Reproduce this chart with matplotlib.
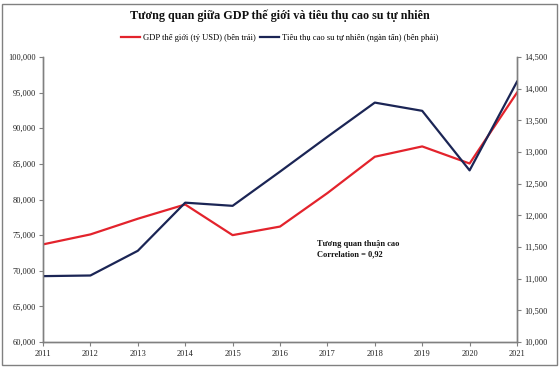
import matplotlib
matplotlib.use("Agg")
import matplotlib.pyplot as plt
from matplotlib.patches import Rectangle
from matplotlib.ticker import FuncFormatter

plt.rcParams['font.family'] = ['Liberation Serif', 'DejaVu Serif']

years = [2011, 2012, 2013, 2014, 2015, 2016, 2017, 2018, 2019, 2020, 2021]
gdp = [73700, 75100, 77300, 79300, 75000, 76200, 80900, 86000, 87450, 85050, 95000]
rubber = [11040, 11050, 11440, 12200, 12150, 12690, 13240, 13780, 13650, 12710, 14110]

title = "Tương quan giữa GDP thế giới và tiêu thụ cao su tự nhiên"
label_gdp = "GDP thế giới (tỷ USD) (bên trái)"
label_rub = "Tiêu thụ cao su tự nhiên (ngàn tấn) (bên phải)"
note = "Tương quan thuận cao\nCorrelation = 0,92"

red = "#E3232C"
navy = "#1B2555"
gray = "#808080"

fig = plt.figure(figsize=(5.6, 3.69), dpi=100)
ax = fig.add_axes([43/560, 1-342/369, (517-43)/560, (342-57)/369])
ax2 = ax.twinx()

l1, = ax.plot(years, gdp, color=red, lw=1.6, label=label_gdp)
l2, = ax2.plot(years, rubber, color=navy, lw=1.6, label=label_rub)

ax.set_xlim(2011, 2021)
ax.set_ylim(60000, 100000)
ax2.set_ylim(10000, 14500)
ax.set_xticks(years)
ax.set_yticks(range(60000, 100001, 5000))
ax2.set_yticks(range(10000, 14501, 500))
fmt = FuncFormatter(lambda v, p: f"{int(v):,}")
ax.yaxis.set_major_formatter(fmt)
ax2.yaxis.set_major_formatter(fmt)

for a in (ax, ax2):
    a.spines['top'].set_visible(False)
    for s in ('left', 'right', 'bottom'):
        a.spines[s].set_color(gray)
        a.spines[s].set_linewidth(1.0)
    a.tick_params(colors=gray, labelcolor='#222222', labelsize=6, length=3, width=0.8, pad=2)
ax.tick_params(axis='x', pad=3)

ax.text(2016.78, 73000, note, fontsize=6.0, fontweight='bold', ha='left', va='center',
        color='#111111', linespacing=1.4)

fig.text(0.5, 1-16/369, title, ha='center', va='center', fontsize=8.7, fontweight='bold', color='#111111')
fig.legend(handles=[l1, l2], loc='center', bbox_to_anchor=(0.5, 1-38/369), ncol=2, frameon=False,
           fontsize=6.1, handlelength=2.2, handletextpad=0.4, columnspacing=0.5)

fig.add_artist(Rectangle((2/560, 4/369), 555/560, 361/369, transform=fig.transFigure,
                         fill=False, edgecolor=gray, lw=1.0))

fig.savefig("out.png", dpi=100)
